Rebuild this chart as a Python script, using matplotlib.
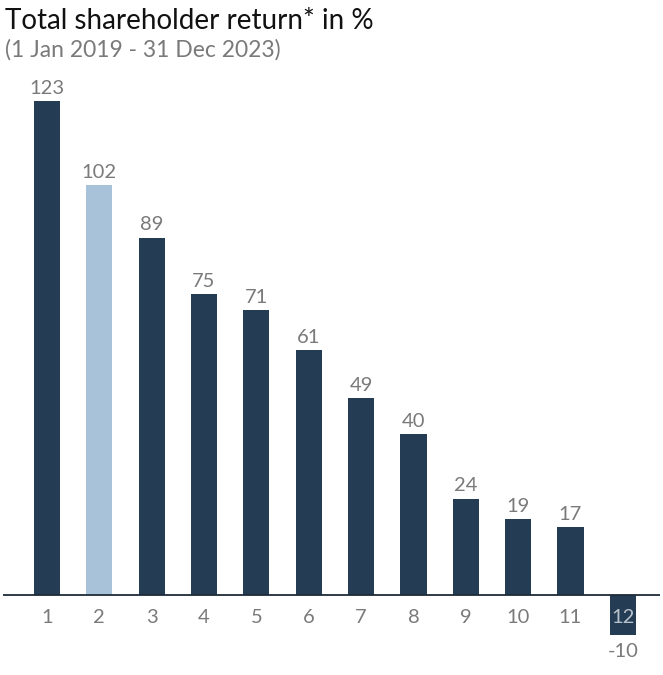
import matplotlib.pyplot as plt

plt.rcParams['font.family'] = ['Lato', 'DejaVu Sans']

# data
ranks = [1, 2, 3, 4, 5, 6, 7, 8, 9, 10, 11, 12]
tsr = [123, 102, 89, 75, 71, 61, 49, 40, 24, 19, 17, -10]
highlight = 2

dark = '#243d54'
light = '#a8c2da'
grey = '#7a7a7a'

W, H = 663, 675
fig = plt.figure(figsize=(W / 100, H / 100), dpi=100)

# axes placed so that zero line sits at y=595 px
top_px, bot_px = 95, 640
ax = fig.add_axes([3 / W, (H - bot_px) / H, 657 / W, (bot_px - top_px) / H])
ppu = (595 - 101) / 123.0
ax.set_ylim(-(bot_px - 595) / ppu, (595 - top_px) / ppu)
ax.set_xlim(0.16, 12.71)

colors = [light if r == highlight else dark for r in ranks]
ax.bar(ranks, tsr, width=0.5, color=colors, zorder=2)
ax.axhline(0, color='#1e2b38', lw=1.3, zorder=3)

lab = dict(ha='center', fontsize=14.5, textcoords='offset points')
for r, v in zip(ranks, tsr):
    if v >= 0:
        ax.annotate(str(v), (r, v), xytext=(0, 3), va='bottom', color=grey, **lab)
        ax.annotate(str(r), (r, 0), xytext=(0, -10), va='top', color=grey, **lab)
    else:
        ax.annotate(str(r), (r, 0), xytext=(0, -10), va='top', color='#b8c2cc', **lab)
        ax.annotate(str(v), (r, v), xytext=(0, -6), va='top', color=grey, **lab)

ax.axis('off')

fig.text(5 / W, 1 - 21 / H, 'Total shareholder return* in %', fontsize=20,
         color='#111111', va='center', ha='left')
fig.text(5 / W, 1 - 50 / H, '(1 Jan 2019 - 31 Dec 2023)', fontsize=16.5,
         color=grey, va='center', ha='left')

fig.savefig('out.png', dpi=100)
